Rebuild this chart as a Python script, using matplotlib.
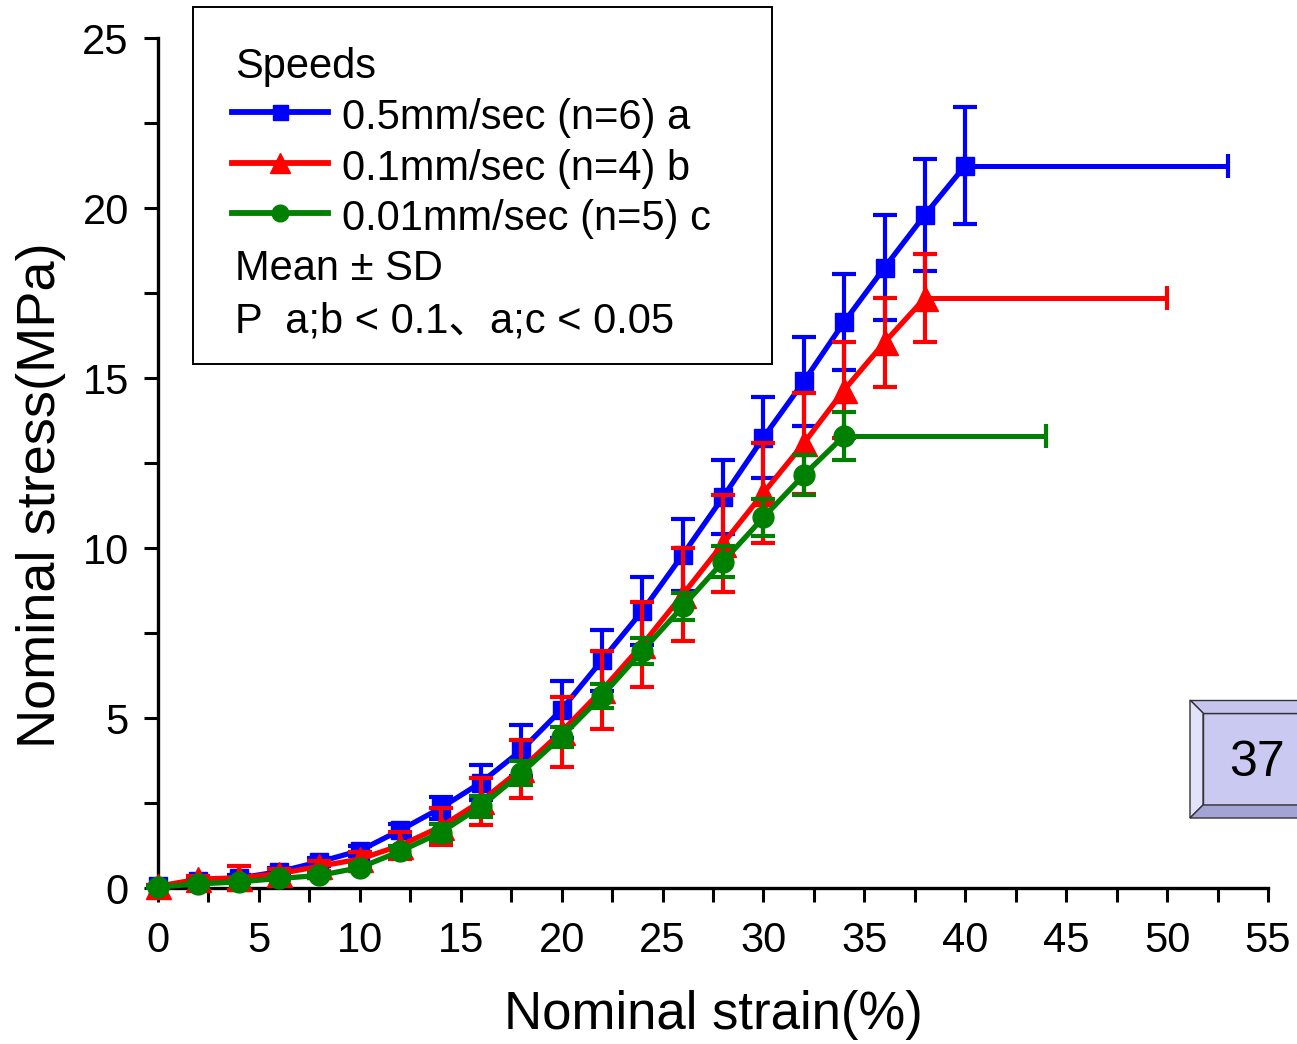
import matplotlib
matplotlib.use("Agg")
import matplotlib.pyplot as plt
from matplotlib.patches import Rectangle, Polygon
from matplotlib.lines import Line2D
from matplotlib.ticker import MultipleLocator

plt.rcParams['font.family'] = ['Liberation Sans', 'Noto Sans CJK JP', 'DejaVu Sans']

# ---------------- data ----------------
strain_a = [0, 2, 4, 6, 8, 10, 12, 14, 16, 18, 20, 22, 24, 26, 28, 30, 32, 34, 36, 38, 40]
stress_a = [0.05, 0.22, 0.29, 0.48, 0.77, 1.1, 1.7, 2.35, 3.1, 4.05, 5.25, 6.7, 8.15, 9.8,
            11.5, 13.25, 14.9, 16.65, 18.25, 19.8, 21.25]
sd_a = [0.03, 0.05, 0.08, 0.1, 0.12, 0.15, 0.18, 0.33, 0.52, 0.75, 0.85, 0.9, 1.0, 1.05,
        1.1, 1.2, 1.3, 1.42, 1.55, 1.65, 1.73]

strain_b = [0, 2, 4, 6, 8, 10, 12, 14, 16, 18, 20, 22, 24, 26, 28, 30, 32, 34, 36, 38]
stress_b = [0.05, 0.26, 0.3, 0.42, 0.64, 0.85, 1.25, 1.8, 2.55, 3.5, 4.6, 5.82, 7.16, 8.63,
            10.13, 11.62, 13.08, 14.65, 16.05, 17.35]
sd_b = [0.03, 0.1, 0.35, 0.15, 0.15, 0.2, 0.4, 0.54, 0.7, 0.86, 1.03, 1.15, 1.25, 1.37,
        1.43, 1.47, 1.48, 1.4, 1.3, 1.3]

strain_c = [0, 2, 4, 6, 8, 10, 12, 14, 16, 18, 20, 22, 24, 26, 28, 30, 32, 34]
stress_c = [0.03, 0.12, 0.18, 0.28, 0.37, 0.6, 1.08, 1.63, 2.4, 3.38, 4.45, 5.65, 6.97, 8.28,
            9.6, 10.9, 12.15, 13.3]
sd_c = [0.02, 0.03, 0.04, 0.05, 0.08, 0.1, 0.15, 0.25, 0.3, 0.35, 0.3, 0.35, 0.37, 0.4,
        0.45, 0.55, 0.58, 0.7]

# strain SD at failure point (one-sided, to the right)
strain_sd_end = [13, 12, 10]

labels = ["0.5mm/sec (n=6) a", "0.1mm/sec (n=4) b", "0.01mm/sec (n=5) c"]
colors = ["#0000FF", "#FF0000", "#008000"]
markers = ["s", "^", "o"]
msizes = [13.5, 18, 15]

x_ticks = [0, 5, 10, 15, 20, 25, 30, 35, 40, 45, 50, 55]
y_ticks = [0, 5, 10, 15, 20, 25]

# ---------------- figure ----------------
W, H = 1297, 1044
fig = plt.figure(figsize=(W / 100, H / 100), dpi=100)
ax = fig.add_axes([158 / W, 1 - 888 / H, 1110 / W, 850 / H])


def fx(px):
    return px / W


def fy(py):
    return 1 - py / H


series = [(strain_a, stress_a, sd_a), (strain_b, stress_b, sd_b), (strain_c, stress_c, sd_c)]
for i, (xs, ys, sds) in enumerate(series):
    ax.errorbar(xs, ys, yerr=sds, color=colors[i], lw=3.8, elinewidth=3.0,
                capsize=8.5, capthick=3.0, marker=markers[i], ms=msizes[i],
                mec=colors[i], mfc=colors[i], zorder=3 + i, clip_on=False)
    ax.errorbar([xs[-1]], [ys[-1]], xerr=[[0], [strain_sd_end[i]]], color=colors[i],
                lw=0, elinewidth=3.6, capsize=8.5, capthick=3.0, fmt='none',
                zorder=3 + i, clip_on=False)

ax.set_xlim(0, 55)
ax.set_ylim(0, 25)
ax.set_xticks(x_ticks)
ax.set_yticks(y_ticks)
ax.xaxis.set_minor_locator(MultipleLocator(2.5))
ax.yaxis.set_minor_locator(MultipleLocator(2.5))
ax.tick_params(which='both', direction='out', length=10, width=2.2, labelsize=30, pad=11)
ax.tick_params(axis='x', which='both', pad=14)
for s in ['top', 'right']:
    ax.spines[s].set_visible(False)
for s in ['left', 'bottom']:
    ax.spines[s].set_linewidth(2.4)

ax.set_xlabel("Nominal strain(%)", fontsize=38)
ax.set_ylabel("Nominal stress(MPa)", fontsize=39)
ax.xaxis.set_label_coords(0.5, -0.12)
ax.yaxis.set_label_coords(-0.083, 0.462)

# ---------------- legend box (manual) ----------------
fig.add_artist(Rectangle((fx(193), fy(364)), fx(772) - fx(193), fy(7) - fy(364),
                         transform=fig.transFigure, fill=False, ec='black', lw=1.4))
fs_leg = 30
fig.text(fx(235), fy(78), "Speeds", fontsize=fs_leg, va='baseline', ha='left')
row_line_y = [112, 163, 213]
row_base_y = [129, 180, 230]
for i in range(3):
    fig.add_artist(Line2D([fx(232), fx(328)], [fy(row_line_y[i])] * 2, transform=fig.transFigure,
                          color=colors[i], lw=4.2))
    fig.add_artist(Line2D([fx(280)], [fy(row_line_y[i])], transform=fig.transFigure,
                          color=colors[i], marker=markers[i], ms=msizes[i] * 0.8, lw=0))
    fig.text(fx(342), fy(row_base_y[i]), labels[i], fontsize=fs_leg, va='baseline', ha='left')
fig.text(fx(235), fy(280), "Mean ± SD", fontsize=fs_leg, va='baseline', ha='left')
fig.text(fx(235), fy(332), "P  a;b < 0.1、a;c < 0.05", fontsize=fs_leg, va='baseline', ha='left')

# ---------------- page badge ----------------
L, R, T, B, d = 1190, 1300, 700, 818, 13
face = Polygon([(fx(L + d), fy(T + d)), (fx(R), fy(T + d)), (fx(R), fy(B - d)), (fx(L + d), fy(B - d))],
               closed=True, transform=fig.transFigure, fc='#C9C9F2', ec='#333333', lw=1)
top = Polygon([(fx(L), fy(T)), (fx(R), fy(T)), (fx(R), fy(T + d)), (fx(L + d), fy(T + d))],
              closed=True, transform=fig.transFigure, fc='#C4C4EE', ec='#333333', lw=1)
left = Polygon([(fx(L), fy(T)), (fx(L + d), fy(T + d)), (fx(L + d), fy(B - d)), (fx(L), fy(B))],
               closed=True, transform=fig.transFigure, fc='#E2E2FA', ec='#333333', lw=1)
bottom = Polygon([(fx(L), fy(B)), (fx(L + d), fy(B - d)), (fx(R), fy(B - d)), (fx(R), fy(B))],
                 closed=True, transform=fig.transFigure, fc='#A3A3D6', ec='#333333', lw=1)
for p in (face, top, left, bottom):
    fig.add_artist(p)
fig.text(fx(1257), fy(763), "37", fontsize=36, ha='center', va='center', family='Liberation Sans')

fig.savefig("out.png", dpi=100)
